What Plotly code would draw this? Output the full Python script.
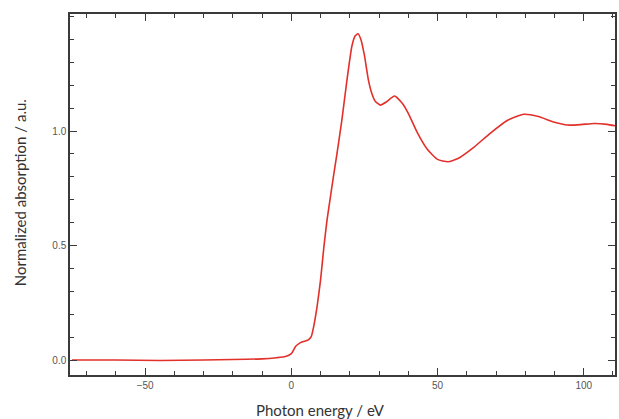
import plotly.graph_objects as go

# Normalized XANES spectrum, energy relative to the edge
energy_ev = [-75, -60, -45, -30, -20, -10, -5, -2, 0, 1.5, 3, 4.5, 5.8, 6.8, 7.7,
             8.8, 10, 11.1, 12.2, 13.4, 14.5, 15.6, 17.3, 19, 20.7, 21.8, 22.8,
             23.8, 25, 26.4, 27.5, 28.7, 30.4, 32.6, 35.3, 38, 40, 43, 46.5, 50,
             53.6, 57, 62.5, 68, 74, 79.5, 84.5, 90, 94.5, 99, 103.5, 108, 111]
absorption = [0.0, 0.0, -0.002, 0.0, 0.002, 0.005, 0.010, 0.015, 0.028, 0.06,
              0.075, 0.082, 0.088, 0.102, 0.150, 0.233, 0.35, 0.49, 0.61, 0.715,
              0.81, 0.90, 1.05, 1.22, 1.37, 1.415, 1.425, 1.40, 1.33, 1.22, 1.165,
              1.13, 1.113, 1.128, 1.153, 1.12, 1.077, 0.995, 0.92, 0.876, 0.866,
              0.88, 0.93, 0.99, 1.047, 1.073, 1.063, 1.038, 1.026, 1.028, 1.033,
              1.029, 1.022]

x_ticks = [-50, 0, 50, 100]
y_ticks = [0.0, 0.5, 1.0]
y_tick_text = ["0.0", "0.5", "1.0"]

axis_color = "#3a3a3a"
tick_font = dict(family="Liberation Sans, Arial, sans-serif", size=10, color="#555555")
title_font = dict(family="Lato, Open Sans, sans-serif", size=15, color="#333333")

fig = go.Figure()
fig.add_trace(go.Scatter(
    x=energy_ev, y=absorption, mode="lines",
    line=dict(color="#e2302a", width=1.6, shape="spline", smoothing=0.5),
    showlegend=False, hoverinfo="skip",
))

fig.update_xaxes(
    range=[-75.7, 110.7], tickvals=x_ticks, ticks="inside", ticklen=7,
    tickwidth=1.3, tickcolor=axis_color, showline=True, linecolor=axis_color,
    linewidth=1.5, mirror="allticks", showgrid=False, zeroline=False,
    tickfont=tick_font,
    minor=dict(dtick=10, tick0=0, ticks="inside", ticklen=4, tickwidth=1,
               tickcolor=axis_color, showgrid=False),
)
fig.update_yaxes(
    range=[-0.0655, 1.511], tickvals=y_ticks, ticktext=y_tick_text,
    ticks="inside", ticklen=7, tickwidth=1.3, tickcolor=axis_color,
    showline=True, linecolor=axis_color, linewidth=1.5, mirror="allticks",
    showgrid=False, zeroline=False, tickfont=tick_font,
    minor=dict(dtick=0.1, tick0=0, ticks="inside", ticklen=4, tickwidth=1,
               tickcolor=axis_color, showgrid=False),
)

fig.add_annotation(text="Photon energy / eV", xref="paper", yref="paper",
                   x=(321 - 70) / 547, y=-35 / 361, xanchor="center",
                   yanchor="middle", showarrow=False, font=title_font)
fig.add_annotation(text="Normalized absorption / a.u.", xref="paper",
                   yref="paper", x=(20 - 70) / 547, y=(375 - 193) / 361,
                   xanchor="center", yanchor="middle", textangle=-90,
                   showarrow=False, font=title_font)

fig.update_layout(
    width=619, height=419,
    margin=dict(l=70, r=2, t=14, b=44),
    paper_bgcolor="white", plot_bgcolor="white",
)

fig.write_html("out.html")
